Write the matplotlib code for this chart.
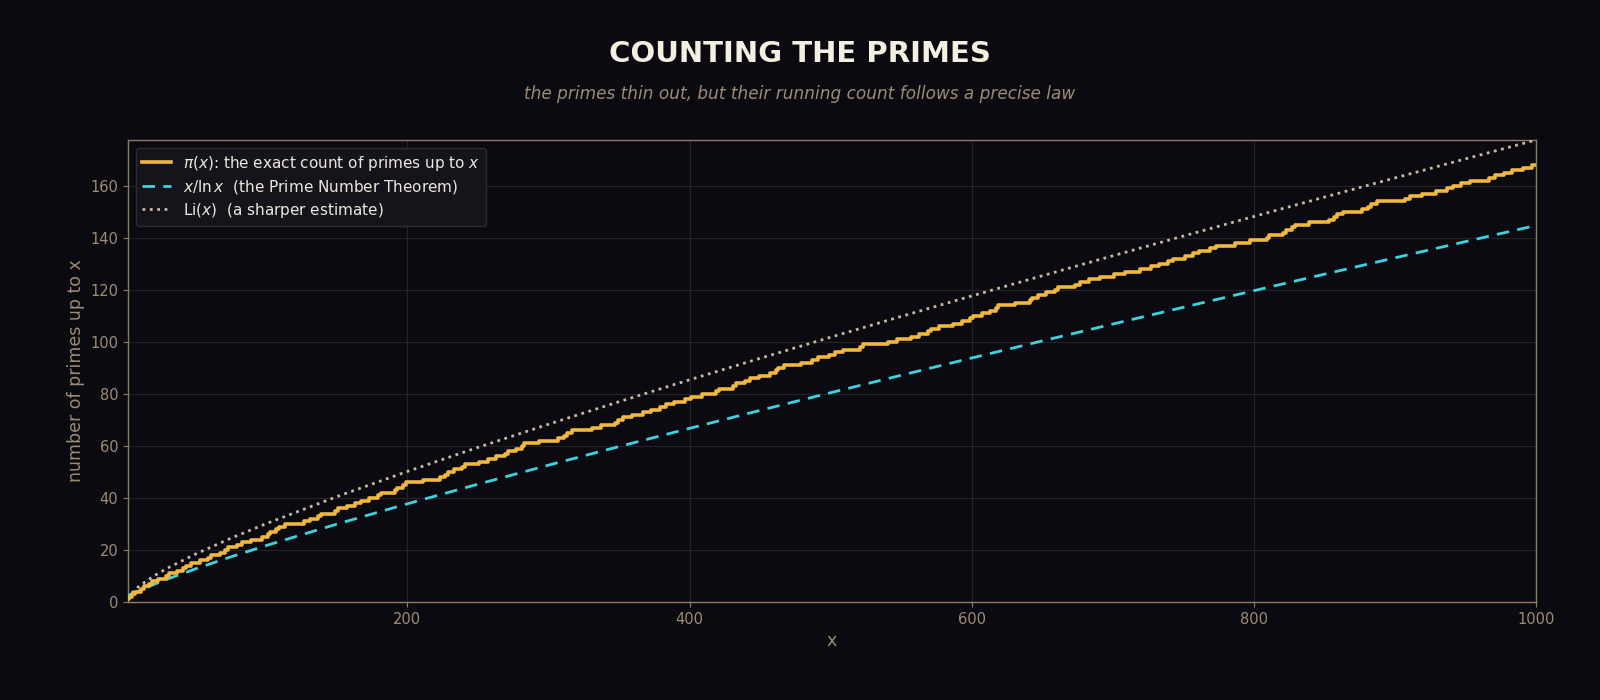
import matplotlib
matplotlib.use("Agg")
import matplotlib.pyplot as plt
import numpy as np

plt.rcParams['font.family'] = ['DejaVu Sans']
plt.rcParams['mathtext.fontset'] = 'dejavusans'

# primes up to 1000 (each one is a step of pi(x))
primes = [2, 3, 5, 7, 11, 13, 17, 19, 23, 29, 31, 37, 41, 43, 47, 53, 59, 61, 67, 71, 73, 79, 83, 89, 97,
          101, 103, 107, 109, 113, 127, 131, 137, 139, 149, 151, 157, 163, 167, 173, 179, 181, 191, 193, 197, 199,
          211, 223, 227, 229, 233, 239, 241, 251, 257, 263, 269, 271, 277, 281, 283, 293,
          307, 311, 313, 317, 331, 337, 347, 349, 353, 359, 367, 373, 379, 383, 389, 397,
          401, 409, 419, 421, 431, 433, 439, 443, 449, 457, 461, 463, 467, 479, 487, 491, 499,
          503, 509, 521, 523, 541, 547, 557, 563, 569, 571, 577, 587, 593, 599,
          601, 607, 613, 617, 619, 631, 641, 643, 647, 653, 659, 661, 673, 677, 683, 691,
          701, 709, 719, 727, 733, 739, 743, 751, 757, 761, 769, 773, 787, 797,
          809, 811, 821, 823, 827, 829, 839, 853, 857, 859, 863, 877, 881, 883, 887,
          907, 911, 919, 929, 937, 941, 947, 953, 967, 971, 977, 983, 991, 997]

# sample points for the two smooth estimates
est_x = [2, 3, 5, 10, 20, 30, 50, 75, 100, 150, 200, 250, 300, 350, 400, 450, 500,
         550, 600, 650, 700, 750, 800, 850, 900, 950, 1000]
pnt = [2.89, 2.73, 3.11, 4.34, 6.68, 8.82, 12.78, 17.37, 21.71, 29.94, 37.75, 45.28, 52.60, 59.75,
       66.76, 73.66, 80.46, 87.16, 93.80, 100.36, 106.85, 113.29, 119.68, 126.02, 132.31, 138.55, 144.76]
li = [1.05, 2.16, 3.63, 6.17, 9.91, 13.03, 18.47, 24.53, 30.13, 40.50, 50.19, 59.43, 68.33, 76.98,
      85.42, 93.68, 101.79, 109.78, 117.65, 125.41, 133.09, 140.68, 148.20, 155.64, 163.02, 170.35, 177.61]

BG = '#0b0a11'
TAN = '#9c8c74'

px = primes + [1000]
py = list(range(1, len(primes) + 1)) + [len(primes)]

fig = plt.figure(figsize=(16, 7), dpi=100, facecolor=BG)
ax = fig.add_axes([0.08, 0.14, 0.88, 0.66])
ax.set_facecolor(BG)

ax.plot(px, py, drawstyle='steps-post', color='#f0b83e', lw=2.6,
        label=r'$\pi(x)$: the exact count of primes up to $x$', zorder=4)
ax.plot(est_x, pnt, color='#3cd3de', lw=2, ls=(0, (4.5, 3)),
        label=r'$x/\ln x$  (the Prime Number Theorem)', zorder=3)
ax.plot(est_x, li, color='#c9b9a2', lw=2, ls=':',
        label=r'$\mathrm{Li}(x)$  (a sharper estimate)', zorder=3)

ax.set_xlim(2, 1000)
ax.set_ylim(0, max(li))
ax.set_xticks([200, 400, 600, 800, 1000])
ax.set_yticks(range(0, 161, 20))
ax.grid(True, color='#24222b', lw=0.8)
ax.set_axisbelow(True)
for s in ax.spines.values():
    s.set_color('#8c7c62')
    s.set_linewidth(1)
ax.tick_params(colors='#8c7c62', labelcolor=TAN, labelsize=10.5)
ax.set_xlabel('x', color=TAN, fontsize=12.5)
ax.set_ylabel('number of primes up to x', color=TAN, fontsize=12.5)

leg = ax.legend(loc='upper left', fontsize=11, facecolor='#15141b', edgecolor='#2c2b33',
                framealpha=1, borderpad=0.4, handlelength=1.9, labelspacing=0.32)
for t in leg.get_texts():
    t.set_color('#ece7de')

fig.text(0.5, 0.923, 'COUNTING THE PRIMES', ha='center', va='center',
         color='#f5efe2', fontsize=21, fontweight='bold')
fig.text(0.5, 0.866, 'the primes thin out, but their running count follows a precise law',
         ha='center', va='center', color='#9c8c78', fontsize=12.2, style='italic')

fig.savefig('out.png', dpi=100, facecolor=BG)
